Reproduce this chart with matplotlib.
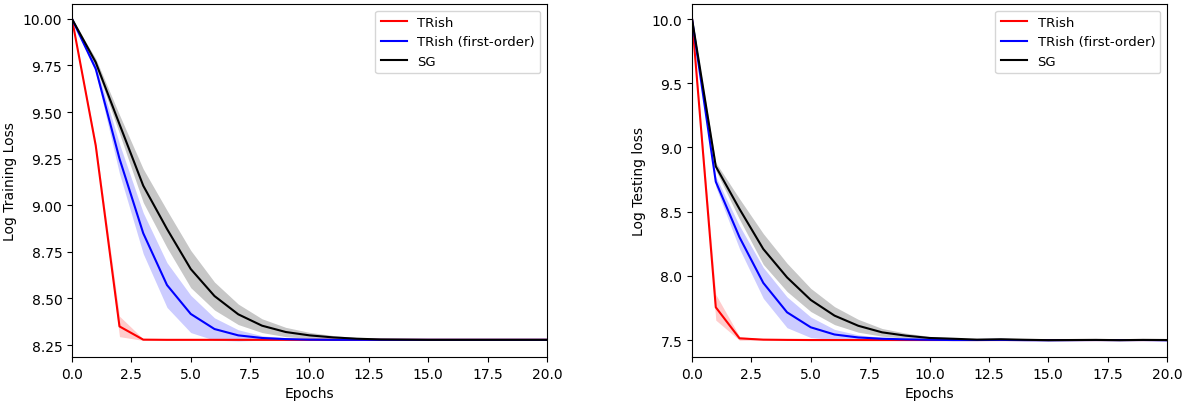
import numpy as np
import matplotlib
matplotlib.use("Agg")
import matplotlib.pyplot as plt

epochs = np.arange(21)

# Training loss (log), mean and half-width of band
train_trish = [10.0, 9.32, 8.35, 8.279, 8.278, 8.278, 8.278, 8.278, 8.278, 8.278, 8.278,
               8.278, 8.278, 8.278, 8.278, 8.278, 8.278, 8.278, 8.278, 8.278, 8.278]
train_trish_sd = [0.0, 0.02, 0.055, 0.004, 0.002, 0.002, 0.002, 0.002, 0.002, 0.002, 0.002,
                  0.002, 0.002, 0.002, 0.002, 0.002, 0.002, 0.002, 0.002, 0.002, 0.002]
train_fo = [10.0, 9.732, 9.25, 8.85, 8.572, 8.417, 8.336, 8.302, 8.288, 8.282, 8.279,
            8.278, 8.278, 8.278, 8.278, 8.278, 8.278, 8.278, 8.278, 8.278, 8.278]
train_fo_sd = [0.0, 0.02, 0.08, 0.11, 0.12, 0.1, 0.06, 0.03, 0.012, 0.006, 0.003,
               0.002, 0.002, 0.002, 0.002, 0.002, 0.002, 0.002, 0.002, 0.002, 0.002]
train_sg = [10.0, 9.767, 9.435, 9.105, 8.873, 8.658, 8.513, 8.415, 8.354, 8.32, 8.302,
            8.291, 8.284, 8.28, 8.279, 8.278, 8.278, 8.278, 8.278, 8.278, 8.278]
train_sg_sd = [0.0, 0.02, 0.05, 0.09, 0.1, 0.1, 0.075, 0.055, 0.037, 0.025, 0.016,
               0.01, 0.006, 0.004, 0.003, 0.002, 0.002, 0.002, 0.002, 0.002, 0.002]

# Testing loss (log)
test_trish = [10.0, 7.755, 7.513, 7.503, 7.501, 7.5, 7.5, 7.5, 7.5, 7.5, 7.5,
              7.5, 7.5, 7.5, 7.5, 7.5, 7.5, 7.5, 7.5, 7.5, 7.5]
test_trish_sd = [0.0, 0.1, 0.015, 0.004, 0.003, 0.003, 0.003, 0.003, 0.003, 0.003, 0.003,
                 0.003, 0.003, 0.003, 0.003, 0.003, 0.003, 0.003, 0.003, 0.003, 0.003]
test_fo = [10.0, 8.733, 8.3, 7.945, 7.716, 7.599, 7.543, 7.52, 7.51, 7.505, 7.502,
           7.5, 7.5, 7.501, 7.499, 7.498, 7.499, 7.5, 7.499, 7.5, 7.498]
test_fo_sd = [0.0, 0.04, 0.09, 0.12, 0.12, 0.08, 0.04, 0.02, 0.01, 0.006, 0.004,
              0.003, 0.003, 0.003, 0.003, 0.003, 0.003, 0.003, 0.003, 0.003, 0.003]
test_sg = [10.0, 8.852, 8.52, 8.209, 7.988, 7.812, 7.69, 7.611, 7.56, 7.534, 7.516,
           7.51, 7.503, 7.506, 7.502, 7.499, 7.5, 7.501, 7.499, 7.501, 7.5]
test_sg_sd = [0.0, 0.03, 0.08, 0.12, 0.11, 0.09, 0.07, 0.05, 0.03, 0.02, 0.012,
              0.008, 0.005, 0.004, 0.003, 0.003, 0.003, 0.003, 0.003, 0.003, 0.003]

fig = plt.figure(figsize=(11.86, 4.02), dpi=100)
ax1 = fig.add_axes([0.0607, 0.1095, 0.4005, 0.8781])
ax2 = fig.add_axes([0.5835, 0.1095, 0.4005, 0.8781])

def draw(ax, series, ylabel, ylim):
    for mean, sd, color, label in series:
        mean = np.array(mean)
        sd = np.array(sd)
        ax.plot(epochs, mean, color=color, label=label, linewidth=1.5)
        ax.fill_between(epochs, mean - sd, mean + sd, color=color,
                        alpha=0.2 if color != 'black' else 0.22, linewidth=0)
    ax.set_xlim(0, 20)
    ax.set_ylim(*ylim)
    ax.set_xlabel("Epochs")
    ax.set_ylabel(ylabel)
    ax.legend(loc="upper right", fontsize=9.5)

draw(ax1, [(train_trish, train_trish_sd, 'red', 'TRish'),
           (train_fo, train_fo_sd, 'blue', 'TRish (first-order)'),
           (train_sg, train_sg_sd, 'black', 'SG')],
     "Log Training Loss", (8.186, 10.08))
ax1.set_yticks([8.25, 8.5, 8.75, 9.0, 9.25, 9.5, 9.75, 10.0])

draw(ax2, [(test_trish, test_trish_sd, 'red', 'TRish'),
           (test_fo, test_fo_sd, 'blue', 'TRish (first-order)'),
           (test_sg, test_sg_sd, 'black', 'SG')],
     "Log Testing loss", (7.368, 10.117))
ax2.set_yticks([7.5, 8.0, 8.5, 9.0, 9.5, 10.0])

fig.savefig("out.png", dpi=100)
